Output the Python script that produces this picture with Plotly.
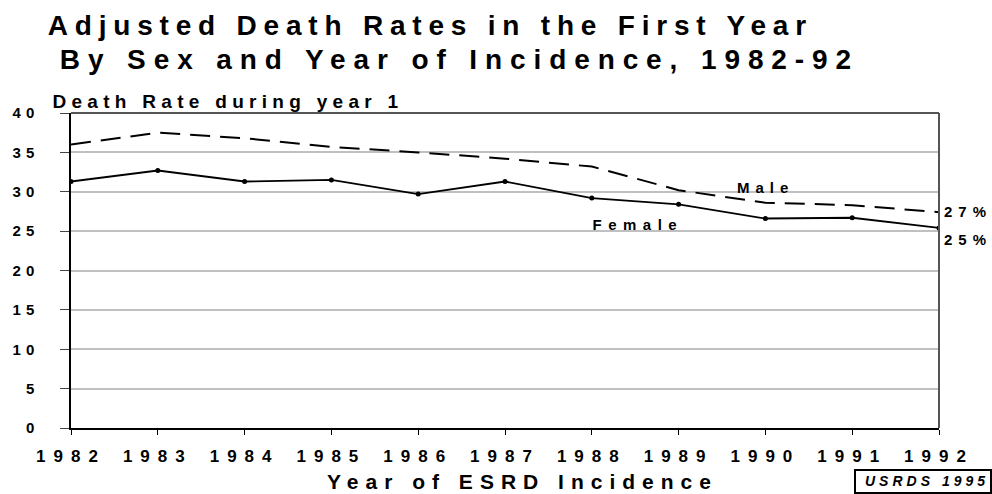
import plotly.graph_objects as go

years = [1982, 1983, 1984, 1985, 1986, 1987, 1988, 1989, 1990, 1991, 1992]
male = [36.0, 37.5, 36.8, 35.7, 35.0, 34.2, 33.2, 30.2, 28.6, 28.3, 27.4]
female = [31.3, 32.7, 31.3, 31.5, 29.7, 31.3, 29.2, 28.4, 26.6, 26.7, 25.4]
ytick_vals = [0, 5, 10, 15, 20, 25, 30, 35, 40]

FONT = "Liberation Sans, Arial, sans-serif"

# plot area in pixels (used for placing text only)
L, R, T, B = 71, 939, 113, 428


def px(x):
    return (x - L) / (R - L)


def py(y):
    return (B - y) / (B - T)


fig = go.Figure()

fig.add_trace(go.Scatter(x=years, y=male, name='Male', mode='lines',
                         line=dict(color='black', width=2, dash='20px,10px')))
fig.add_trace(go.Scatter(x=years, y=female, name='Female', mode='lines+markers',
                         line=dict(color='black', width=1.8),
                         marker=dict(color='black', size=5)))


def note(text, x, y, size, italic=False):
    fig.add_annotation(text=text, x=px(x), y=py(y), xref='paper', yref='paper',
                       xanchor='center', yanchor='middle', showarrow=False,
                       font=dict(family=FONT, size=size, color='black', weight='bold',
                                 style='italic' if italic else 'normal'))


note('Adjusted Death Rates in the First Year', 430, 25.5, 28)
note('By Sex and Year of Incidence, 1982-92', 459, 60, 28)
note('Death Rate during year 1', 228, 102, 19)
note('Male', 765, 187, 15)
note('Female', 638, 224, 15)
note('27%', 968, 211, 15)
note('25%', 968, 239, 15)
note('Year of ESRD Incidence', 522, 481, 21)
note('USRDS 1995', 927, 481, 14, italic=True)

# source box
fig.add_shape(type='rect', xref='paper', yref='paper', x0=px(855), x1=px(991),
              y0=py(470), y1=py(493), line=dict(color='black', width=2))
# top and right frame
fig.add_shape(type='line', xref='paper', yref='paper', x0=0, x1=1, y0=1, y1=1,
              line=dict(color='#555555', width=2))
fig.add_shape(type='line', xref='paper', yref='paper', x0=1, x1=1, y0=0, y1=1,
              line=dict(color='#555555', width=2))

fig.update_layout(
    width=992, height=494,
    margin=dict(l=L, r=992 - R, t=T, b=494 - B),
    paper_bgcolor='white', plot_bgcolor='white',
    showlegend=False,
    xaxis=dict(range=[1982, 1992], tickvals=years, ticks='outside', ticklen=5,
               tickcolor='black', showline=True, linecolor='black', linewidth=1.5,
               showgrid=False, zeroline=False, ticklabelstandoff=7,
               tickfont=dict(family=FONT, size=17, color='black', weight='bold')),
    yaxis=dict(range=[0, 40], tickvals=ytick_vals, ticks='outside', ticklen=9,
               tickcolor='#444444', showline=True, linecolor='black', linewidth=1.5,
               showgrid=True, gridcolor='#c0c0c0', gridwidth=1.5, zeroline=False,
               ticklabelstandoff=18,
               tickfont=dict(family=FONT, size=15, color='black', weight='bold')),
    xaxis2=dict(range=[1982, 1992], tickvals=years, ticks='inside', ticklen=5,
                tickcolor='black', overlaying='x', anchor='y', showline=False,
                showgrid=False, zeroline=False, showticklabels=False),
    yaxis2=dict(range=[0, 40], tickvals=ytick_vals, ticks='inside', ticklen=10,
                tickcolor='#444444', overlaying='y', anchor='x', side='left',
                showline=False, showgrid=False, zeroline=False, showticklabels=False),
)

spacing_css = """
var st = document.createElement('style');
st.innerHTML = `
body {margin: 0;}
.xtick text {letter-spacing: 8px;}
.ytick text {letter-spacing: 5px;}
g.annotation[data-index="0"] text {letter-spacing: 6.8px;}
g.annotation[data-index="1"] text {letter-spacing: 7.9px;}
g.annotation[data-index="2"] text {letter-spacing: 5.3px;}
g.annotation[data-index="3"] text {letter-spacing: 6px;}
g.annotation[data-index="4"] text {letter-spacing: 6.5px;}
g.annotation[data-index="5"] text {letter-spacing: 6px;}
g.annotation[data-index="6"] text {letter-spacing: 6px;}
g.annotation[data-index="7"] text {letter-spacing: 7px;}
g.annotation[data-index="8"] text {letter-spacing: 4px;}
`;
document.head.appendChild(st);
"""

fig.write_html("out.html", config={'displayModeBar': False}, post_script=spacing_css)
